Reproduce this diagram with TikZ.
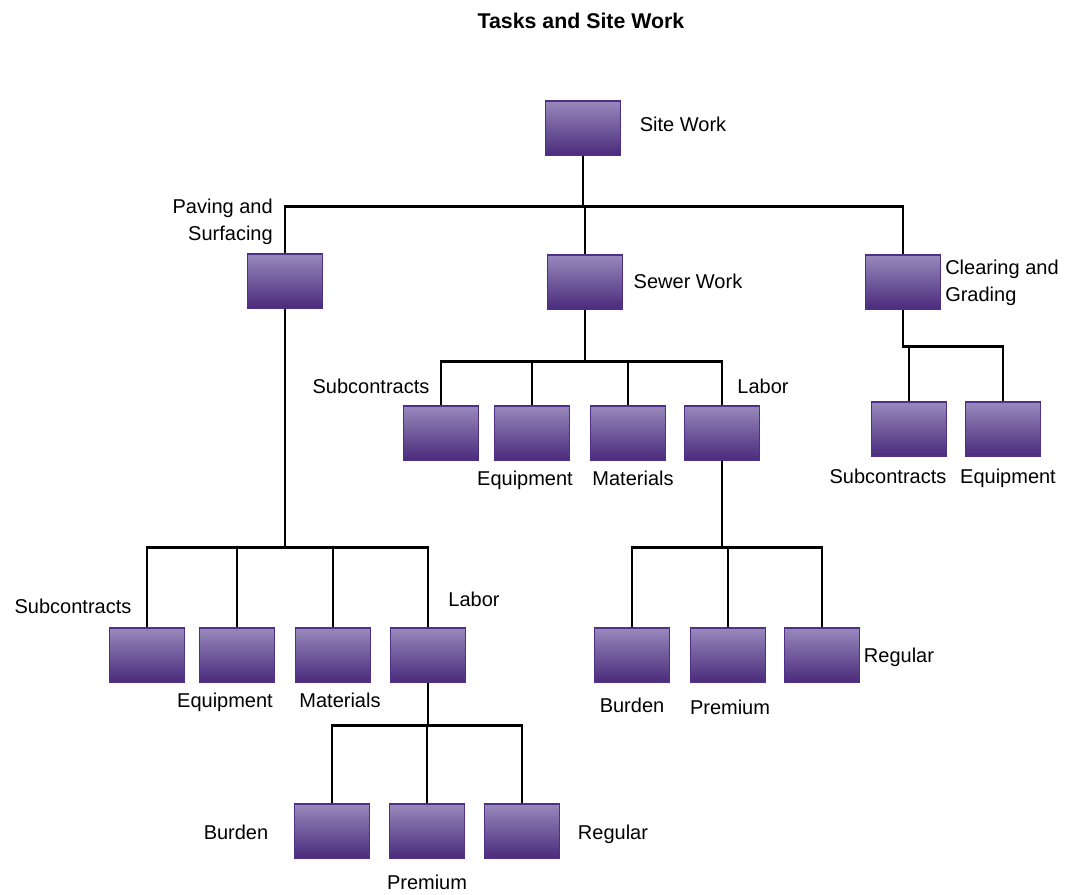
\documentclass[tikz,border=0pt]{standalone}
\usepackage{fontspec}
\setmainfont{Liberation Sans}
\definecolor{boxtop}{HTML}{9889BC}
\definecolor{boxbot}{HTML}{4A2B7C}
\definecolor{boxrim}{HTML}{4F2F88}
\usetikzlibrary{positioning}

\begin{document}
\begin{tikzpicture}[x=0.75pt, y=-0.75pt,
  unit/.style={draw=boxrim, line width=1.1pt, top color=boxtop, bottom color=boxbot,
               minimum width=56pt, minimum height=40.5pt, inner sep=0pt},
  lbl/.style={font=\fontsize{15}{20}\selectfont, inner sep=0pt, yshift=-1.5pt},
  wire/.style={line width=2.2pt},
]
\useasboundingbox (0,0) rectangle (1067,894);

\node[font=\fontsize{16}{19}\selectfont\bfseries] (title) at (581,21) {Tasks and Site Work};

% top level
\node[unit] (site) at (583,128) {};
\node[lbl, anchor=mid] (sitelbl) at (683,126) {Site Work};

% second level
\node[unit] (paving) at (285,281) {};
\node[unit] (sewer) at (585,282) {};
\node[unit] (clear) at (903,282) {};
\node[lbl, align=right, anchor=east] (pavinglbl) at (273,220) {Paving and\\Surfacing};
\node[lbl, anchor=mid] (sewerlbl) at (688,283) {Sewer Work};
\node[lbl, align=left, anchor=west] (clearlbl) at (945,281) {Clearing and\\Grading};

% sewer work
\node[unit] (swsub) at (441,433) {};
\node[unit] (sweq) at (532,433) {};
\node[unit] (swmat) at (628,433) {};
\node[unit] (swlab) at (722,433) {};
\node[lbl, anchor=mid] (swsublbl) at (371,388) {Subcontracts};
\node[lbl, anchor=mid] (sweqlbl) at (525,480) {Equipment};
\node[lbl, anchor=mid] (swmatlbl) at (633,480) {Materials};
\node[lbl, anchor=mid] (swlablbl) at (763,388) {Labor};

% clearing and grading
\node[unit] (clsub) at (909,429) {};
\node[unit] (cleq) at (1003,429) {};
\node[lbl, anchor=mid] (clsublbl) at (888,478) {Subcontracts};
\node[lbl, anchor=mid] (cleqlbl) at (1008,478) {Equipment};

% paving and surfacing
\node[unit] (pvsub) at (147,655) {};
\node[unit] (pveq) at (237,655) {};
\node[unit] (pvmat) at (333,655) {};
\node[unit] (pvlab) at (428,655) {};
\node[lbl, anchor=mid] (pvsublbl) at (73,608) {Subcontracts};
\node[lbl, anchor=mid] (pveqlbl) at (225,702) {Equipment};
\node[lbl, anchor=mid] (pvmatlbl) at (340,702) {Materials};
\node[lbl, anchor=mid] (pvlablbl) at (474,601) {Labor};

% labor under paving
\node[unit] (pvbur) at (332,831) {};
\node[unit] (pvpre) at (427,831) {};
\node[unit] (pvreg) at (522,831) {};
\node[lbl, anchor=mid] (pvburlbl) at (236,834) {Burden};
\node[lbl, anchor=mid] (pvprelbl) at (427,884) {Premium};
\node[lbl, anchor=mid] (pvreglbl) at (613,834) {Regular};

% labor under sewer work
\node[unit] (swbur) at (632,655) {};
\node[unit] (swpre) at (728,655) {};
\node[unit] (swreg) at (822,655) {};
\node[lbl, anchor=mid] (swburlbl) at (632,707) {Burden};
\node[lbl, anchor=mid] (swprelbl) at (730,709) {Premium};
\node[lbl, anchor=mid] (swreglbl) at (899,657) {Regular};

% connectors
\foreach \c in {paving,sewer,clear}
  \draw[wire] (site.south) -- ++(0,51) -| (\c.north);
\foreach \c in {swsub,sweq,swmat,swlab}
  \draw[wire] (sewer.south) -- ++(0,52) -| (\c.north);
\foreach \c in {clsub,cleq}
  \draw[wire] (clear.south) -- ++(0,37) -| (\c.north);
\foreach \c in {pvsub,pveq,pvmat,pvlab}
  \draw[wire] (paving.south) -- ++(0,239) -| (\c.north);
\foreach \c in {pvbur,pvpre,pvreg}
  \draw[wire] (pvlab.south) -- ++(0,43) -| (\c.north);
\foreach \c in {swbur,swpre,swreg}
  \draw[wire] (swlab.south) -- ++(0,87) -| (\c.north);
\end{tikzpicture}
\end{document}
